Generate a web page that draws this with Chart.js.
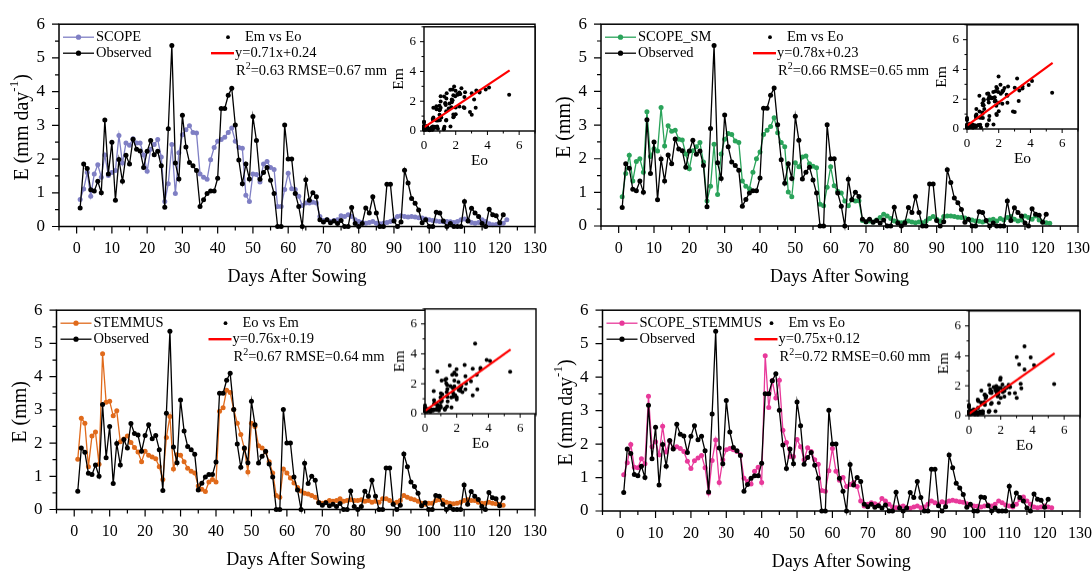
<!DOCTYPE html>
<html>
<head>
<meta charset="utf-8">
<title>Daily evaporation after sowing</title>
<script src="https://cdn.jsdelivr.net/npm/chart.js@4.4.1/dist/chart.umd.min.js"></script>
<style>
  html, body { margin: 0; padding: 0; background: #fff; }
  #page { position: relative; width: 1092px; height: 572px; overflow: hidden; background: #fff; }
  #page canvas { position: absolute; }
</style>
</head>
<body>
<div id="page"></div>
<script>
/* ===== daily evaporation (mm): observed vs four model runs ===== */
var firstDay = 1;

var observed = [
  0.55, 1.85, 1.72, 1.09, 1.05, 1.34, 1.00, 3.16, 1.56, 2.50,
  0.78, 1.99, 1.34, 2.11, 1.85, 2.59, 2.29, 2.24, 1.75, 2.23,
  2.55, 2.13, 2.23, 1.80, 0.57, 2.90, 5.37, 1.88, 1.41, 3.30,
  2.36, 1.90, 1.80, 1.66, 0.59, 0.79, 0.98, 1.05, 1.05, 1.43,
  3.50, 3.50, 3.89, 4.10, 3.01, 1.97, 1.27, 1.85, 1.41, 3.26,
  2.55, 1.40, 1.60, 1.75, 1.37, 0.98, 0.00, 0.00, 3.01, 2.00,
  2.00, 0.98, 0.59, 0.00, 1.39, 0.78, 1.00, 0.88, 0.20, 0.13,
  0.20, 0.11, 0.16, 0.09, 0.18, 0.00, 0.00, 0.56, 0.09, 0.00,
  0.09, 0.55, 0.40, 0.88, 0.40, 0.00, 0.00, 1.25, 1.25, 0.16,
  0.00, 0.13, 1.67, 1.29, 0.83, 0.69, 0.49, 0.11, 0.20, 0.00,
  0.00, 0.42, 0.40, 0.16, 0.00, 0.09, 0.00, 0.00, 0.00, 0.74,
  0.16, 0.54, 0.40, 0.30, 0.09, 0.00, 0.51, 0.35, 0.32, 0.11,
  0.35
];

var scope = [
  0.80, 1.11, 1.60, 0.90, 1.56, 1.83, 1.46, 2.12, 1.51, 1.60,
  1.66, 2.70, 1.88, 2.48, 2.41, 2.60, 2.48, 2.48, 2.12, 1.64,
  2.29, 2.43, 2.58, 2.06, 0.74, 1.27, 2.43, 0.98, 2.19, 2.72,
  2.87, 2.99, 2.79, 2.77, 1.56, 1.46, 1.40, 1.98, 2.34, 2.53,
  2.58, 2.65, 2.79, 2.92, 2.53, 2.34, 2.32, 0.93, 0.74, 1.56,
  1.54, 1.32, 1.85, 1.93, 1.75, 1.69, 0.59, 0.59, 1.10, 1.58,
  1.12, 1.10, 0.90, 0.62, 0.70, 0.70, 0.72, 0.70, 0.30, 0.18,
  0.20, 0.15, 0.18, 0.20, 0.32, 0.30, 0.35, 0.30, 0.20, 0.15,
  0.12, 0.10, 0.12, 0.15, 0.10, 0.08, 0.10, 0.12, 0.15, 0.20,
  0.30, 0.32, 0.30, 0.28, 0.30, 0.28, 0.26, 0.25, 0.22, 0.20,
  0.18, 0.16, 0.15, 0.14, 0.15, 0.14, 0.12, 0.15, 0.20, 0.22,
  0.18, 0.12, 0.10, 0.12, 0.20, 0.15, 0.08, 0.05, 0.06, 0.08,
  0.10, 0.20
];

var scopeSM = [
  0.87, 1.56, 2.10, 1.34, 1.92, 2.00, 1.60, 3.40, 2.07, 2.30,
  2.23, 3.52, 2.38, 2.98, 2.82, 2.85, 2.58, 2.56, 2.14, 1.70,
  2.24, 2.36, 2.48, 1.90, 0.74, 1.18, 2.43, 0.94, 2.14, 2.58,
  2.75, 2.72, 2.53, 2.48, 1.34, 1.18, 1.11, 1.60, 2.00, 2.20,
  2.72, 2.85, 2.96, 3.22, 2.77, 2.48, 2.36, 1.01, 0.87, 1.88,
  1.76, 2.05, 2.08, 1.85, 1.78, 1.73, 0.65, 0.60, 1.15, 1.76,
  1.20, 1.03, 0.98, 0.74, 0.60, 0.78, 0.74, 0.75, 0.16, 0.12,
  0.15, 0.12, 0.18, 0.25, 0.35, 0.30, 0.22, 0.15, 0.12, 0.10,
  0.12, 0.15, 0.12, 0.10, 0.12, 0.10, 0.15, 0.22, 0.28, 0.20,
  0.15, 0.28, 0.30, 0.30, 0.28, 0.26, 0.25, 0.24, 0.20, 0.18,
  0.15, 0.14, 0.12, 0.15, 0.18, 0.20, 0.15, 0.22, 0.18, 0.25,
  0.28, 0.20, 0.15, 0.18, 0.30, 0.25, 0.20, 0.30, 0.18, 0.12,
  0.10, 0.08
];

var stemmus = [
  1.51, 2.75, 2.60, 1.29, 2.21, 2.33, 1.36, 4.69, 3.23, 3.26,
  2.82, 2.97, 2.04, 2.12, 2.21, 2.02, 1.87, 1.73, 1.44, 1.75,
  1.63, 1.58, 1.53, 1.29, 0.90, 2.17, 2.80, 1.22, 1.65, 1.63,
  1.44, 1.24, 1.15, 1.10, 0.71, 0.61, 0.54, 0.83, 0.90, 0.83,
  2.96, 3.06, 3.59, 3.52, 3.01, 2.60, 2.26, 1.83, 1.13, 2.60,
  2.50, 1.92, 1.85, 1.73, 1.44, 1.10, 0.42, 0.37, 1.22, 1.10,
  0.95, 0.80, 0.66, 0.56, 0.49, 0.47, 0.42, 0.37, 0.22, 0.19,
  0.22, 0.27, 0.25, 0.27, 0.32, 0.25, 0.27, 0.29, 0.27, 0.27,
  0.29, 0.25, 0.27, 0.22, 0.25, 0.22, 0.32, 0.32, 0.27, 0.19,
  0.22, 0.27, 0.42, 0.37, 0.32, 0.29, 0.25, 0.19, 0.16, 0.19,
  0.19, 0.27, 0.29, 0.27, 0.22, 0.19, 0.17, 0.19, 0.22, 0.27,
  0.29, 0.27, 0.27, 0.22, 0.19, 0.19, 0.22, 0.19, 0.17, 0.15,
  0.13
];

var scopeStemmus = [
  1.08, 1.44, 1.99, 1.31, 1.29, 1.56, 1.41, 3.43, 1.92, 2.07,
  1.68, 2.53, 1.76, 2.09, 1.87, 1.92, 1.87, 1.78, 1.49, 1.27,
  1.50, 1.58, 1.66, 1.29, 0.54, 1.51, 2.12, 0.85, 1.53, 1.83,
  1.87, 1.83, 1.78, 1.68, 0.98, 0.88, 0.81, 1.19, 1.31, 0.85,
  4.64, 3.09, 3.89, 3.38, 3.91, 2.41, 2.05, 1.63, 1.63, 2.14,
  1.92, 1.53, 1.89, 1.78, 1.53, 1.40, 0.61, 0.59, 1.20, 1.87,
  1.19, 0.92, 1.00, 0.73, 0.79, 0.85, 0.73, 0.30, 0.15, 0.20,
  0.25, 0.22, 0.18, 0.37, 0.30, 0.20, 0.12, 0.10, 0.12, 0.15,
  0.10, 0.08, 0.12, 0.15, 0.10, 0.12, 0.20, 0.30, 0.25, 0.20,
  0.28, 0.25, 0.30, 0.32, 0.30, 0.28, 0.26, 0.22, 0.18, 0.15,
  0.14, 0.12, 0.15, 0.18, 0.15, 0.20, 0.30, 0.25, 0.18, 0.15,
  0.12, 0.20, 0.35, 0.42, 0.30, 0.20, 0.12, 0.10, 0.12, 0.15,
  0.12, 0.10
];

var xTicks = [0, 10, 20, 30, 40, 50, 60, 70, 80, 90, 100, 110, 120, 130];
var yTicks = [0, 1, 2, 3, 4, 5, 6];
var insetTicks = [0, 2, 4, 6];

var modelNames = ["SCOPE", "SCOPE_SM", "STEMMUS", "SCOPE_STEMMUS"];
var pairNames = ["Em vs Eo", "Em vs Eo", "Eo vs Em", "Em vs Eo"];
var fitSlope = [0.71, 0.78, 0.76, 0.75];
var fitIntercept = [0.24, 0.23, 0.19, 0.12];
var fitR2 = ["0.63", "0.66", "0.67", "0.72"];
var fitRmse = ["0.67", "0.65", "0.64", "0.60"];
var fitXRange = [0, 5.4];

/* ---- layout (page pixels) ---- */
var SERIF = "'Liberation Serif', 'Times New Roman', serif";
var page = document.getElementById("page");

var panels = [
  { values: scope, color: "#7f7fc4", perDay: true,
    box: { x: 0, y: 0, w: 560, h: 292 }, area: { l: 59, t: 20.5, r: 535, b: 226.5 } },
  { values: scopeSM, color: "#2aa35a", perDay: false,
    box: { x: 546, y: 0, w: 560, h: 292 }, area: { l: 601, t: 18.5, r: 1078, b: 226 } },
  { values: stemmus, color: "#e06a1b", perDay: false,
    box: { x: 0, y: 286, w: 560, h: 290 }, area: { l: 56.5, t: 303, r: 535.5, b: 509.5 } },
  { values: scopeStemmus, color: "#e8399a", perDay: true,
    box: { x: 546, y: 286, w: 560, h: 290 }, area: { l: 602.5, t: 305, r: 1080, b: 511 } }
];

function addCanvas(box) {
  var c = document.createElement("canvas");
  c.width = box.w; c.height = box.h;
  c.style.left = box.x + "px"; c.style.top = box.y + "px";
  c.style.width = box.w + "px"; c.style.height = box.h + "px";
  page.appendChild(c);
  return c;
}

function points(values) {
  return values.map(function (v, i) { return { x: firstDay + i, y: v }; });
}

function fixedTicks(values) {
  return function (scale) { scale.ticks = values.map(function (v) { return { value: v }; }); };
}

function dot(ctx, x, y, r, color) {
  ctx.fillStyle = color;
  ctx.beginPath(); ctx.arc(x, y, r, 0, Math.PI * 2); ctx.fill();
}

function hTick(ctx, x, y, len) { ctx.moveTo(x, y); ctx.lineTo(x, y + len); }
function vTick(ctx, x, y, len) { ctx.moveTo(x, y); ctx.lineTo(x - len, y); }

function yTitle(ctx, cx, cy, perDay) {
  var big = "20px " + SERIF, small = "13px " + SERIF;
  var head = perDay ? "E (mm day" : "E (mm)";
  ctx.save();
  ctx.translate(cx, cy); ctx.rotate(-Math.PI / 2);
  ctx.textAlign = "left"; ctx.textBaseline = "alphabetic"; ctx.fillStyle = "#000";
  ctx.font = big;
  var w1 = ctx.measureText(head).width, w3 = perDay ? ctx.measureText(")").width : 0;
  ctx.font = small;
  var w2 = perDay ? ctx.measureText("-1").width : 0;
  var x = -(w1 + w2 + w3) / 2;
  ctx.font = big; ctx.fillText(head, x, 7);
  if (perDay) {
    ctx.font = small; ctx.fillText("-1", x + w1, -3);
    ctx.font = big; ctx.fillText(")", x + w1 + w2, 7);
  }
  ctx.restore();
}

// R² label with a raised, smaller "2"
function r2Label(ctx, x, y, r2, rmse) {
  var base = "14.5px " + SERIF, sup = "10px " + SERIF;
  ctx.font = base; ctx.fillText("R", x, y);
  var wR = ctx.measureText("R").width;
  ctx.font = sup; ctx.fillText("2", x + wR, y - 5);
  var w2 = ctx.measureText("2").width;
  ctx.font = base; ctx.fillText("=" + r2 + " RMSE=" + rmse + " mm", x + wR + w2, y);
}

function mainDecor(p, i) {
  return {
    id: "mainDecor",
    afterDraw: function (chart) {
      var ctx = chart.ctx, a = chart.chartArea, sx = chart.scales.x, sy = chart.scales.y;
      ctx.save();
      ctx.strokeStyle = "#000"; ctx.lineWidth = 1.5;
      ctx.strokeRect(a.left, a.top, a.right - a.left, a.bottom - a.top);

      ctx.lineWidth = 1.2;
      ctx.beginPath();
      xTicks.forEach(function (v) {
        hTick(ctx, sx.getPixelForValue(v), a.bottom, 7);
        hTick(ctx, sx.getPixelForValue(v - 5), a.bottom, 4);
      });
      yTicks.forEach(function (v) {
        vTick(ctx, a.left, sy.getPixelForValue(v), 7);
        if (v < 6) vTick(ctx, a.left, sy.getPixelForValue(v + 0.5), 4);
      });
      ctx.stroke();

      // series legend
      ctx.font = "14.5px " + SERIF; ctx.textBaseline = "middle"; ctx.textAlign = "left";
      [[p.color, modelNames[i], 13], ["#000", "Observed", 29]].forEach(function (row) {
        var y = a.top + row[2], x0 = a.left + 4, x1 = a.left + 35;
        ctx.strokeStyle = row[0]; ctx.lineWidth = 1.3;
        ctx.beginPath(); ctx.moveTo(x0, y); ctx.lineTo(x1, y); ctx.stroke();
        dot(ctx, (x0 + x1) / 2, y, 2.6, row[0]);
        ctx.fillStyle = "#000"; ctx.fillText(row[1], a.left + 37, y);
      });

      // scatter + fit legend
      dot(ctx, a.left + 169, a.top + 13, 1.9, "#000");
      ctx.fillStyle = "#000";
      ctx.fillText(pairNames[i], a.left + 186, a.top + 13);
      ctx.strokeStyle = "#ff0000"; ctx.lineWidth = 2.4;
      ctx.beginPath(); ctx.moveTo(a.left + 152, a.top + 29); ctx.lineTo(a.left + 175, a.top + 29); ctx.stroke();
      ctx.fillStyle = "#000";
      ctx.fillText("y=" + fitSlope[i] + "x+" + fitIntercept[i], a.left + 176, a.top + 29);
      r2Label(ctx, a.left + 177, a.top + 47, fitR2[i], fitRmse[i]);

      // axis titles
      ctx.font = "18px " + SERIF; ctx.textAlign = "center";
      ctx.fillText("Days After Sowing", (a.left + a.right) / 2, a.bottom + 51);
      yTitle(ctx, a.left - 38, (a.top + a.bottom) / 2 + 2, p.perDay);
      ctx.restore();
    }
  };
}

function insetDecor() {
  return {
    id: "insetDecor",
    beforeDraw: function (chart) {
      var a = chart.chartArea, ctx = chart.ctx;
      ctx.save(); ctx.fillStyle = "#fff";
      ctx.fillRect(a.left, a.top, a.right - a.left, a.bottom - a.top);
      ctx.restore();
    },
    afterDraw: function (chart) {
      var ctx = chart.ctx, a = chart.chartArea, sx = chart.scales.x, sy = chart.scales.y;
      ctx.save();
      ctx.strokeStyle = "#000"; ctx.lineWidth = 1.4;
      ctx.strokeRect(a.left, a.top, a.right - a.left, a.bottom - a.top);
      ctx.lineWidth = 1;
      ctx.beginPath();
      insetTicks.forEach(function (v) {
        hTick(ctx, sx.getPixelForValue(v), a.bottom, 4);
        hTick(ctx, sx.getPixelForValue(v + 1), a.bottom, 2.5);
        vTick(ctx, a.left, sy.getPixelForValue(v), 4);
        vTick(ctx, a.left, sy.getPixelForValue(v + 1), 2.5);
      });
      ctx.stroke();
      ctx.fillStyle = "#000"; ctx.font = "15.5px " + SERIF;
      ctx.textAlign = "center"; ctx.textBaseline = "middle";
      ctx.fillText("Eo", (a.left + a.right) / 2, a.bottom + 30);
      ctx.translate(a.left - 25, (a.top + a.bottom) / 2); ctx.rotate(-Math.PI / 2);
      ctx.fillText("Em", 0, 0);
      ctx.restore();
    }
  };
}

function fixedArea(box, area) {
  return { left: 0, top: area.t - box.y, right: box.x + box.w - area.r, bottom: 0 };
}

function mainChart(p, i) {
  var box = p.box, area = p.area;
  return new Chart(addCanvas(box), {
    type: "line",
    data: {
      datasets: [
        { label: "Observed", data: points(observed), borderColor: "#000", backgroundColor: "#000",
          borderWidth: 1.3, pointRadius: 2.5, pointBorderWidth: 0, clip: false },
        { label: modelNames[i], data: points(p.values), borderColor: p.color, backgroundColor: p.color,
          borderWidth: 1.3, pointRadius: 2.5, pointBorderWidth: 0, clip: false }
      ]
    },
    options: {
      responsive: false, animation: false, events: [],
      layout: { padding: fixedArea(box, area) },
      plugins: { legend: { display: false }, tooltip: { enabled: false } },
      scales: {
        x: {
          type: "linear", min: -5, max: 130,
          afterBuildTicks: fixedTicks(xTicks),
          afterFit: function (s) { s.height = box.y + box.h - area.b; },
          grid: { display: false, drawTicks: false }, border: { display: false },
          ticks: { font: { family: SERIF, size: 16 }, color: "#000", padding: 13, autoSkip: false, maxRotation: 0 }
        },
        y: {
          type: "linear", min: 0, max: 6,
          afterBuildTicks: fixedTicks(yTicks),
          afterFit: function (s) { s.width = area.l - box.x; },
          grid: { display: false, drawTicks: false }, border: { display: false },
          ticks: { font: { family: SERIF, size: 17 }, color: "#000", padding: 14 }
        }
      }
    },
    plugins: [mainDecor(p, i)]
  });
}

function insetChart(p, i) {
  var area = { l: p.area.r - 111, t: p.area.t, r: p.area.r, b: p.area.t + 110.5 };
  var box = { x: area.l - 50, y: area.t - 10, w: area.r - area.l + 70, h: area.b - area.t + 55 };
  var pairs = observed.map(function (o, k) { return { x: o, y: p.values[k] }; });
  var fit = fitXRange.map(function (x) { return { x: x, y: fitSlope[i] * x + fitIntercept[i] }; });
  return new Chart(addCanvas(box), {
    type: "scatter",
    data: {
      datasets: [
        { type: "line", data: fit, borderColor: "#ff0000", borderWidth: 2.2, pointRadius: 0, clip: false },
        { data: pairs, backgroundColor: "#000", pointRadius: 2, pointBorderWidth: 0, clip: false }
      ]
    },
    options: {
      responsive: false, animation: false, events: [],
      layout: { padding: fixedArea(box, area) },
      plugins: { legend: { display: false }, tooltip: { enabled: false } },
      scales: {
        x: {
          type: "linear", min: 0, max: 7,
          afterBuildTicks: fixedTicks(insetTicks),
          afterFit: function (s) { s.height = box.y + box.h - area.b; },
          grid: { display: false, drawTicks: false }, border: { display: false },
          ticks: { font: { family: SERIF, size: 13 }, color: "#000", padding: 7, autoSkip: false, maxRotation: 0 }
        },
        y: {
          type: "linear", min: 0, max: 7,
          afterBuildTicks: fixedTicks(insetTicks),
          afterFit: function (s) { s.width = area.l - box.x; },
          grid: { display: false, drawTicks: false }, border: { display: false },
          ticks: { font: { family: SERIF, size: 13 }, color: "#000", padding: 8 }
        }
      }
    },
    plugins: [insetDecor()]
  });
}

panels.forEach(mainChart);
panels.forEach(insetChart);
</script>
</body>
</html>
